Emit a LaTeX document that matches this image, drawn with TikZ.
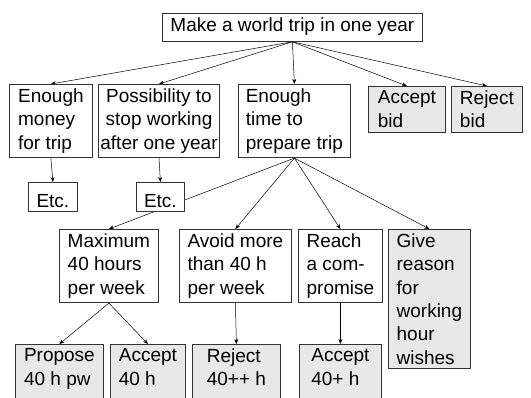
\documentclass[tikz,border=0pt]{standalone}
\usepackage{fontspec}
\setmainfont{Liberation Sans}
\usetikzlibrary{arrows.meta,backgrounds}

\newcommand{\boxfont}{\fontsize{19pt}{23.3pt}\selectfont}
\newcommand{\firststrut}{\rule{0pt}{20.3pt}}

\tikzset{
	box/.style={draw=black!80, line width=0.8pt, fill=white, anchor=north west, align=left, font=\boxfont, inner xsep=2pt, inner ysep=4.5pt, execute at begin node=\firststrut},
	leaf/.style={box, fill=black!9},
	cutleaf/.style={leaf, text depth=28pt}, % runs past the page bottom
	link/.style={-{Stealth[length=5pt,width=4pt]}, line width=0.5pt},
}

\begin{document}
\begin{tikzpicture}[x=1pt,y=-1pt]
		\def\rowb{84}   % top of second row
		\def\rowc{229}  % top of third row
		\def\rowd{344}  % top of bottom row
		\useasboundingbox (0,0) rectangle (531,398);
		
		\node[box, text height=13.5pt, text depth=4.5pt, inner ysep=5pt, minimum width=260] (trip) at (162,13) {Make a world trip in one year};
		
		\node[box, minimum width=83] (money) at (9,\rowb) {Enough\\money\\for trip};
		\node[box, align=center, minimum width=121] (stop) at (98,\rowb) {Possibility to\\stop working\\after one year};
		\node[box, minimum width=112] (time) at (238,\rowb) {Enough\\time to\\prepare trip};
		\node[leaf, minimum width=77] (acceptbid) at (368,\rowb+2) {Accept\\bid};
		\node[leaf, minimum width=71] (rejectbid) at (451,\rowb+2) {Reject\\bid};
		
		\node[box, minimum width=49] (etca) at (28,182) {Etc.};
		\node[box, minimum width=48] (etcb) at (136,182) {Etc.};
		
		\node[box, minimum width=99] (maxh) at (59,\rowc) {Maximum\\40 hours\\per week};
		\node[box, minimum width=112] (avoid) at (179,\rowc) {Avoid more\\than 40 h\\per week};
		\node[box, minimum width=84] (reach) at (298,\rowc) {Reach\\a com-\\promise};
		\node[leaf, minimum width=82] (reason) at (388,\rowc) {Give\\reason\\for\\working\\hour\\wishes};
		
		\node[cutleaf, minimum width=88] (propose) at (15,\rowd) {Propose\\40 h pw};
		\node[cutleaf, minimum width=75] (accepth) at (110,\rowd) {Accept\\40 h};
		\node[cutleaf, minimum width=88] (rejecth) at (192,\rowd) {Reject\\40++ h};
		\node[cutleaf, minimum width=82] (acceptp) at (299,\rowd) {Accept\\40+ h};
		
		\begin{pgfonlayer}{background}
			\foreach \n in {money,stop,time,acceptbid,rejectbid}
				\draw[link] (trip.south) -- (\n.north);
			\foreach \n in {maxh,avoid,reach,reason}
				\draw[link] (time.south) -- (\n.north); % the first one runs behind etcb
			\draw[link] (money.south) -- (etca.north);
			\draw[link] (stop.south) -- (etcb.north);
			\draw[link] (maxh.south) -- (propose.north);
			\draw[link] (maxh.south) -- (accepth.north);
			\draw[link] (avoid.south) -- (rejecth.north);
			\draw[link] (reach.south) -- (acceptp.north);
		\end{pgfonlayer}
		
	\end{tikzpicture}
\end{document}
